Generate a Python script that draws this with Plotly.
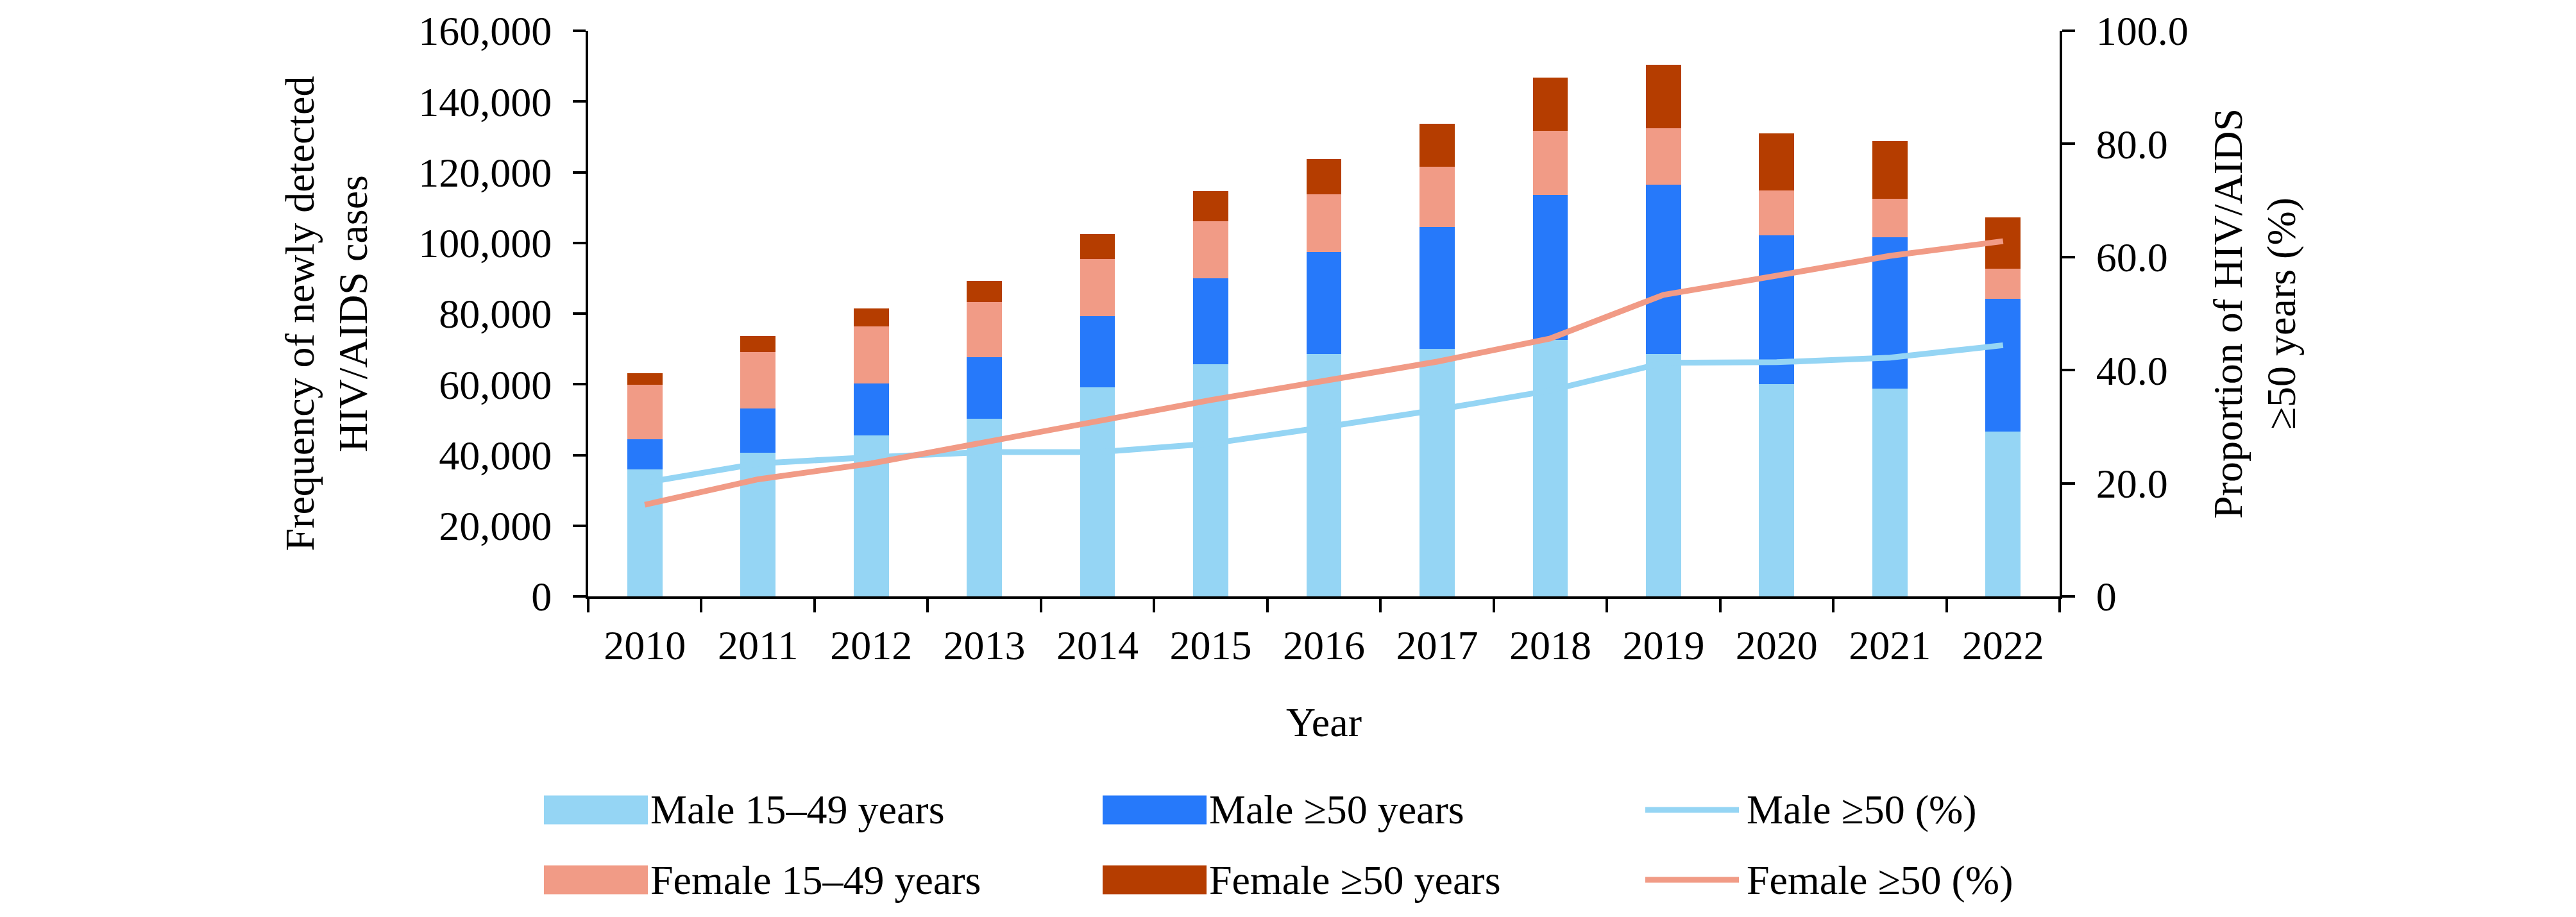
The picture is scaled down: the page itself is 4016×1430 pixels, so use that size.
import plotly.graph_objects as go

years = ["2010", "2011", "2012", "2013", "2014", "2015", "2016", "2017", "2018", "2019", "2020", "2021", "2022"]
male_15_49 = [35900, 40600, 45600, 50300, 59100, 65700, 68600, 70000, 72600, 68600, 60100, 58800, 46700]
male_50 = [8600, 12500, 14600, 17300, 20200, 24300, 28800, 34500, 41000, 47900, 42000, 42800, 37400]
female_15_49 = [15400, 16100, 16200, 15700, 16100, 16100, 16400, 17100, 18100, 15900, 12700, 10900, 8600]
female_50 = [3200, 4500, 5100, 6000, 7100, 8500, 9900, 12100, 15100, 17900, 16100, 16300, 14500]
male_50_pct = [20.1, 23.5, 24.6, 25.5, 25.5, 27.0, 29.9, 33.0, 36.4, 41.3, 41.4, 42.2, 44.4]
female_50_pct = [16.2, 20.7, 23.5, 27.2, 31.0, 34.7, 38.1, 41.5, 45.6, 53.3, 56.7, 60.2, 62.8]

left_ticks = [0, 20000, 40000, 60000, 80000, 100000, 120000, 140000, 160000]
right_ticks = [0, 20, 40, 60, 80, 100]
right_ticktext = ["0", "20.0", "40.0", "60.0", "80.0", "100.0"]

C_M1 = "#95D5F4"
C_M2 = "#2679FA"
C_F1 = "#F19B86"
C_F2 = "#B53D00"

FONT = "Liberation Serif"
FS = 64

fig = go.Figure()
bw = 0.31
for name, vals, col in [("Male 15–49 years", male_15_49, C_M1),
                        ("Male ≥50 years", male_50, C_M2),
                        ("Female 15–49 years", female_15_49, C_F1),
                        ("Female ≥50 years", female_50, C_F2)]:
    fig.add_trace(go.Bar(x=years, y=vals, name=name, marker=dict(color=col, line=dict(width=0)),
                         width=bw, showlegend=False))

fig.add_trace(go.Scatter(x=years, y=male_50_pct, name="Male ≥50 (%)", mode="lines",
                         line=dict(color=C_M1, width=9), yaxis="y2", showlegend=False))
fig.add_trace(go.Scatter(x=years, y=female_50_pct, name="Female ≥50 (%)", mode="lines",
                         line=dict(color=C_F1, width=9), yaxis="y2", showlegend=False))

L, R, T, B = 909, 813, 40, 508
W, H = 4016, 1430
pw, ph = W - L - R, H - T - B

def px_to_paper_x(px):
    return (px - L) / pw

def px_to_paper_y(py):
    return (H - B - py) / ph

shapes = []
annotations = []
legend_items = [
    ("Male 15–49 years", C_M1, "box", 0, 0),
    ("Male ≥50 years", C_M2, "box", 1, 0),
    ("Male ≥50 (%)", C_M1, "line", 2, 0),
    ("Female 15–49 years", C_F1, "box", 0, 1),
    ("Female ≥50 years", C_F2, "box", 1, 1),
    ("Female ≥50 (%)", C_F1, "line", 2, 1),
]
col_x = [840, 1711, 2549]
row_y = [1255, 1364]
sw_w, sw_h = 162, 45
for text, col, kind, ci, ri in legend_items:
    x0 = col_x[ci]
    yc = row_y[ri]
    if kind == "box":
        shapes.append(dict(type="rect", xref="paper", yref="paper",
                           x0=px_to_paper_x(x0), x1=px_to_paper_x(x0 + sw_w),
                           y0=px_to_paper_y(yc - sw_h / 2), y1=px_to_paper_y(yc + sw_h / 2),
                           fillcolor=col, line=dict(width=0)))
    else:
        shapes.append(dict(type="line", xref="paper", yref="paper",
                           x0=px_to_paper_x(x0 + 8), x1=px_to_paper_x(x0 + sw_w - 8),
                           y0=px_to_paper_y(yc), y1=px_to_paper_y(yc),
                           line=dict(color=col, width=9)))
    annotations.append(dict(text=text, xref="paper", yref="paper",
                            x=px_to_paper_x(x0 + sw_w + 2), y=px_to_paper_y(yc),
                            xanchor="left", yanchor="middle", showarrow=False,
                            font=dict(family=FONT, size=FS, color="black")))

fig.update_layout(
    width=W, height=H,
    margin=dict(l=L, r=R, t=T, b=B),
    paper_bgcolor="white", plot_bgcolor="white",
    barmode="stack",
    font=dict(family=FONT, size=FS, color="black"),
    shapes=shapes, annotations=annotations,
    showlegend=False,
    xaxis=dict(type="category", range=[-0.5, 12.5], showline=True, linecolor="black", linewidth=4,
               ticks="outside", ticklen=21, tickwidth=4, tickcolor="black", tickson="boundaries",
               ticklabelstandoff=17,
               showgrid=False, zeroline=False, automargin=False,
               tickfont=dict(family=FONT, size=FS),
               title=dict(text="Year", font=dict(family=FONT, size=FS), standoff=63)),
    yaxis=dict(range=[0, 160000], tickvals=left_ticks, tickformat=",", showline=True,
               linecolor="black", linewidth=4, ticks="outside", ticklen=20, tickwidth=4,
               tickcolor="black", showgrid=False, zeroline=False, automargin=False,
               ticklabelstandoff=20, ticklabeloverflow="allow",
               tickfont=dict(family=FONT, size=FS),
               title=dict(text="Frequency of newly detected<br>HIV/AIDS cases",
                          font=dict(family=FONT, size=FS), standoff=60)),
    yaxis2=dict(range=[0, 100], overlaying="y", side="right", tickvals=right_ticks,
                ticktext=right_ticktext, showline=True, linecolor="black", linewidth=4,
                ticks="outside", ticklen=20, tickwidth=4, tickcolor="black",
                showgrid=False, zeroline=False, automargin=False,
                ticklabelstandoff=20, ticklabeloverflow="allow",
                tickfont=dict(family=FONT, size=FS),
                title=dict(text="Proportion of HIV/AIDS<br>≥50 years (%)",
                           font=dict(family=FONT, size=FS), standoff=40)),
)

fig.write_html("out.html")
